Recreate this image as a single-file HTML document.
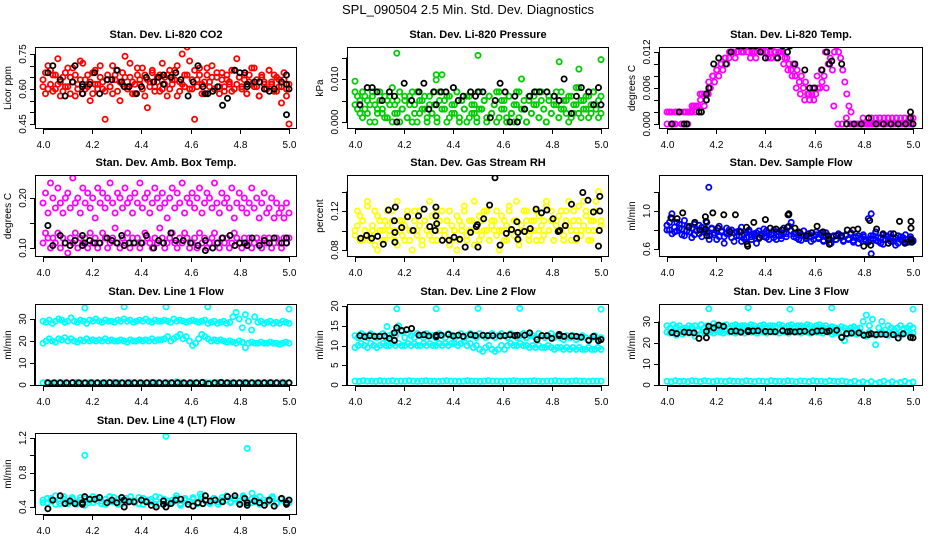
<!DOCTYPE html>
<html><head><meta charset="utf-8">
<style>
html,body{margin:0;padding:0;background:#fff;}
svg{display:block;font-family:"Liberation Sans",Arial,sans-serif;}
</style></head>
<body>
<svg id="chart" width="936" height="540" viewBox="0 0 936 540" xmlns="http://www.w3.org/2000/svg">
<text x="468" y="14" text-anchor="middle" font-size="13">SPL_090504  2.5 Min. Std. Dev. Diagnostics</text>
</svg>
<script>
// ---------- data ----------
const xTicks = [4.0, 4.2, 4.4, 4.6, 4.8, 5.0];

const co2Red1 = [0.64,0.58,0.70,0.62,0.66,0.60,0.73,0.63,0.59,0.67,0.61,0.65,0.69,0.57,0.62,0.64,0.71,0.60,0.66,0.63,0.58,0.68,0.62,0.65,0.60,0.47,0.64,0.61,0.70,0.66,0.59,0.63,0.67,0.74,0.61,0.65,0.58,0.62,0.69,0.64,0.60,0.66,0.52,0.63,0.68,0.61,0.65,0.59,0.71,0.62,0.66,0.60,0.64,0.68,0.57,0.63,0.75,0.61,0.66,0.72,0.60,0.47,0.64,0.69,0.62,0.58,0.66,0.63,0.70,0.60,0.65,0.61,0.67,0.59,0.64,0.62,0.68,0.60,0.73,0.65,0.61,0.66,0.58,0.63,0.69,0.61,0.64,0.57,0.66,0.62,0.60,0.68,0.63,0.59,0.65,0.61,0.54,0.64,0.60,0.45];
const co2Red2 = [0.61,0.67,0.60,0.68,0.59,0.66,0.62,0.57,0.65,0.61,0.69,0.58,0.63,0.66,0.60,0.72,0.58,0.64,0.61,0.55,0.67,0.62,0.60,0.70,0.63,0.59,0.66,0.61,0.58,0.64,0.68,0.55,0.62,0.65,0.60,0.71,0.63,0.58,0.66,0.62,0.69,0.57,0.64,0.61,0.67,0.59,0.63,0.66,0.60,0.65,0.57,0.68,0.62,0.64,0.70,0.59,0.62,0.66,0.78,0.60,0.64,0.68,0.61,0.66,0.58,0.63,0.69,0.61,0.65,0.60,0.67,0.58,0.64,0.61,0.66,0.63,0.59,0.68,0.62,0.65,0.60,0.64,0.58,0.66,0.62,0.69,0.61,0.57,0.65,0.63,0.60,0.68,0.62,0.66,0.59,0.64,0.61,0.67,0.57,0.62];
const co2BlackX = [4.02,4.04,4.07,4.09,4.12,4.13,4.16,4.16,4.16,4.19,4.21,4.23,4.26,4.28,4.30,4.32,4.33,4.35,4.38,4.40,4.42,4.45,4.47,4.49,4.49,4.52,4.54,4.56,4.59,4.61,4.63,4.65,4.66,4.67,4.69,4.71,4.73,4.75,4.78,4.80,4.82,4.83,4.83,4.86,4.88,4.90,4.92,4.94,4.97,4.99,4.99,5.00,4.99];
const co2BlackY = [0.67,0.70,0.64,0.57,0.63,0.70,0.61,0.62,0.58,0.62,0.67,0.58,0.64,0.64,0.68,0.63,0.61,0.61,0.58,0.61,0.65,0.63,0.65,0.62,0.66,0.65,0.67,0.64,0.57,0.63,0.70,0.61,0.58,0.58,0.59,0.61,0.53,0.56,0.68,0.67,0.67,0.61,0.62,0.63,0.63,0.60,0.59,0.60,0.63,0.66,0.62,0.60,0.49];

const presGreen1 = [0.007,0.003,0.005,0.001,0.006,0.002,0.004,0.007,0.000,0.003,0.005,0.002,0.006,0.001,0.004,0.008,0.002,0.005,0.000,0.003,0.006,0.001,0.004,0.007,0.002,0.000,0.005,0.003,0.006,0.001,0.004,0.002,0.007,0.000,0.005,0.011,0.003,0.006,0.001,0.004,0.002,0.007,0.000,0.005,0.003,0.006,0.001,0.004,0.002,0.000,0.007,0.003,0.005,0.001,0.006,0.002,0.004,0.000,0.007,0.003,0.005,0.001,0.006,0.002,0.000,0.004,0.007,0.003,0.005,0.000,0.006,0.002,0.004,0.007,0.001,0.005,0.003,0.000,0.006,0.002,0.004,0.007,0.001,0.003,0.005,0.002,0.006,0.001,0.004,0.008,0.002,0.005,0.003,0.006,0.001,0.004,0.007,0.003,0.005,0.002];
const presGreen2 = [0.004,0.006,0.002,0.007,0.003,0.005,0.000,0.006,0.004,0.002,0.007,0.003,0.001,0.005,0.006,0.000,0.004,0.002,0.007,0.003,0.005,0.001,0.006,0.000,0.004,0.007,0.002,0.005,0.003,0.000,0.006,0.002,0.004,0.001,0.007,0.003,0.005,0.000,0.006,0.002,0.004,0.007,0.001,0.005,0.003,0.000,0.006,0.002,0.004,0.001,0.003,0.003,0.005,0.000,0.006,0.002,0.004,0.007,0.001,0.005,0.003,0.000,0.006,0.002,0.004,0.007,0.001,0.010,0.003,0.000,0.005,0.002,0.006,0.004,0.001,0.007,0.003,0.000,0.005,0.002,0.006,0.004,0.001,0.007,0.003,0.005,0.000,0.006,0.002,0.004,0.008,0.001,0.005,0.003,0.006,0.002,0.007,0.004,0.001,0.006];
const presOutX = [4.00,4.17,4.33,4.33,4.50,4.83,4.91,5.00];
const presOutY = [0.0095,0.016,0.011,0.0098,0.0155,0.014,0.0123,0.0145];
const presBlackX = [4.02,4.05,4.07,4.09,4.11,4.14,4.16,4.17,4.20,4.23,4.26,4.28,4.30,4.32,4.33,4.35,4.37,4.40,4.42,4.44,4.47,4.49,4.50,4.52,4.55,4.57,4.59,4.61,4.63,4.65,4.66,4.69,4.71,4.73,4.75,4.78,4.81,4.83,4.85,4.88,4.90,4.92,4.95,4.97,4.99,5.00];
const presBlackY = [0.004,0.008,0.008,0.007,0.005,0.007,0.006,0.000,0.009,0.005,0.007,0.009,0.003,0.007,0.004,0.007,0.007,0.008,0.005,0.006,0.007,0.006,0.007,0.007,0.001,0.005,0.009,0.007,0.000,0.006,0.000,0.003,0.006,0.007,0.007,0.007,0.006,0.005,0.010,0.002,0.006,0.008,0.007,0.004,0.008,0.004];

const tempMag1 = [0.002,0.002,0.000,0.000,0.002,0.002,0.002,0.000,0.002,0.002,0.000,0.002,0.002,0.003,0.003,0.003,0.005,0.005,0.003,0.004,
0.005,0.006,0.008,0.007,0.009,0.008,0.010,0.009,0.011,0.010,
0.011,0.012,0.012,0.011,0.012,0.013,0.012,0.012,0.013,0.012,0.013,0.012,0.012,0.011,0.013,0.012,0.012,0.013,0.012,0.011,0.012,0.013,0.012,0.011,0.012,0.012,
0.012,0.011,0.011,0.010,0.009,0.010,0.008,0.009,0.007,0.008,0.006,0.007,0.005,0.004,0.005,
0.004,0.005,0.006,0.006,0.007,0.008,0.006,0.010,0.011,0.009,0.012,0.013,0.012,0.011,
0.009,0.007,0.005,0.003,0.002,0.000,0.000,0.000,
0.000,0.000,0.000,0.000,0.000,0.000,0.000,0.000,0.001,0.000,0.001,0.000,0.001,0.000,0.001,0.000,0.001,0.000,0.001,0.000,0.001,0.000,0.001,0.000,0.001,0.000,0.001];
const tempMag2 = [0.000,0.002,0.000,0.002,0.000,0.002,0.003,0.002,0.004,0.005,0.007,0.008,0.009,0.010,0.011,
0.012,0.012,0.013,0.012,0.013,0.011,0.012,0.013,0.012,0.012,0.011,0.012,0.012,
0.010,0.009,0.008,0.006,0.005,0.004,
0.005,0.006,0.008,0.009,0.012,0.010,
0.003,0.000,0.000,0.001,0.000,0.000,0.000,0.001,0.000,0.001,0.000,0.001,0.000,0.001,0.000,0.001,0.000,0.001,0.000,0.001];
const tempBlackX = [4.02,4.05,4.07,4.08,4.13,4.14,4.16,4.16,4.17,4.19,4.21,4.24,4.26,4.29,4.31,4.34,4.36,4.38,4.40,4.42,4.45,4.47,4.49,4.50,4.52,4.56,4.58,4.60,4.63,4.65,4.66,4.67,4.71,4.73,4.76,4.79,4.82,4.85,4.88,4.91,4.94,4.97,4.99,4.99,5.00];
const tempBlackY = [0,0.002,0,0,0.002,0.002,0.005,0.004,0.006,0.010,0.011,0.010,0.012,0.013,0.013,0.013,0.013,0.012,0.011,0.013,0.011,0.013,0.012,0.013,0.010,0.009,0.006,0.006,0.009,0.012,0.010,0.0105,0.010,0,0,0,0.001,0,0,0,0,0,0.002,0.001,0];

const ambUpper = [0.19,0.21,0.17,0.23,0.20,0.18,0.22,0.19,0.17,0.20,0.21,0.18,0.24,0.19,0.20,0.17,0.22,0.19,0.21,0.18,0.20,0.16,0.22,0.19,0.21,0.18,0.20,0.23,0.19,0.17,0.21,0.20,0.18,0.22,0.19,0.20,0.17,0.21,0.19,0.23,0.18,0.20,0.21,0.17,0.19,0.22,0.20,0.18,0.21,0.19,0.16,0.20,0.22,0.18,0.21,0.19,0.23,0.17,0.20,0.19,0.21,0.18,0.20,0.22,0.17,0.19,0.21,0.20,0.18,0.23,0.19,0.17,0.21,0.19,0.20,0.18,0.22,0.16,0.19,0.21,0.18,0.20,0.17,0.19,0.22,0.18,0.20,0.16,0.19,0.21,0.17,0.18,0.20,0.16,0.19,0.17,0.18,0.16,0.19,0.17];
const ambLower = [0.11,0.13,0.12,0.10,0.12,0.11,0.13,0.10,0.12,0.11,0.09,0.12,0.11,0.13,0.10,0.12,0.11,0.12,0.10,0.13,0.11,0.12,0.10,0.11,0.13,0.12,0.10,0.11,0.12,0.14,0.11,0.10,0.12,0.11,0.13,0.10,0.12,0.11,0.12,0.10,0.11,0.13,0.12,0.11,0.10,0.12,0.11,0.14,0.12,0.10,0.11,0.12,0.13,0.11,0.10,0.12,0.11,0.13,0.12,0.10,0.11,0.12,0.10,0.13,0.11,0.12,0.10,0.11,0.12,0.13,0.11,0.10,0.12,0.11,0.12,0.10,0.11,0.13,0.12,0.11,0.10,0.12,0.11,0.12,0.10,0.11,0.12,0.11,0.10,0.12,0.11,0.12,0.10,0.11,0.12,0.11,0.10,0.12,0.11,0.12];
const ambBlackX = [4.02,4.04,4.07,4.09,4.11,4.13,4.16,4.16,4.17,4.19,4.21,4.23,4.26,4.28,4.30,4.32,4.33,4.35,4.37,4.40,4.42,4.45,4.47,4.49,4.52,4.54,4.57,4.60,4.63,4.66,4.66,4.69,4.71,4.73,4.76,4.78,4.80,4.82,4.83,4.85,4.88,4.90,4.92,4.94,4.97,4.99,4.99];
const ambBlackY = [0.145,0.105,0.125,0.11,0.105,0.115,0.105,0.125,0.11,0.115,0.11,0.11,0.12,0.115,0.11,0.125,0.105,0.11,0.11,0.11,0.125,0.10,0.115,0.11,0.13,0.115,0.115,0.11,0.105,0.115,0.095,0.10,0.11,0.12,0.125,0.105,0.11,0.11,0.105,0.12,0.105,0.115,0.11,0.12,0.11,0.12,0.11];

const rhYellow1 = [0.10,0.12,0.09,0.11,0.10,0.13,0.09,0.10,0.12,0.08,0.11,0.10,0.09,0.12,0.10,0.11,0.09,0.13,0.10,0.11,0.09,0.12,0.10,0.08,0.11,0.10,0.12,0.09,0.11,0.10,0.13,0.09,0.10,0.12,0.11,0.09,0.10,0.11,0.12,0.09,0.10,0.08,0.11,0.10,0.12,0.09,0.11,0.10,0.13,0.10,0.09,0.11,0.12,0.10,0.09,0.11,0.10,0.12,0.08,0.10,0.11,0.09,0.12,0.10,0.11,0.13,0.09,0.10,0.12,0.11,0.09,0.10,0.11,0.12,0.10,0.09,0.11,0.13,0.10,0.12,0.09,0.11,0.10,0.12,0.09,0.11,0.13,0.10,0.12,0.09,0.11,0.10,0.13,0.12,0.09,0.11,0.10,0.12,0.14,0.11];
const rhYellow2 = [0.095,0.105,0.115,0.09,0.1,0.125,0.095,0.105,0.085,0.115,0.1,0.09,0.11,0.105,0.095,0.12,0.1,0.085,0.11,0.095,0.105,0.115,0.09,0.1,0.12,0.095,0.105,0.085,0.11,0.1,0.095,0.115,0.105,0.09,0.1,0.12,0.095,0.11,0.085,0.105,0.1,0.115,0.09,0.105,0.125,0.095,0.1,0.11,0.085,0.105,0.115,0.095,0.1,0.12,0.09,0.105,0.11,0.095,0.1,0.115,0.09,0.105,0.125,0.1,0.095,0.11,0.085,0.105,0.1,0.12,0.095,0.11,0.1,0.09,0.115,0.105,0.095,0.125,0.1,0.11,0.09,0.105,0.115,0.1,0.095,0.12,0.105,0.09,0.11,0.1,0.125,0.095,0.105,0.115,0.1,0.09,0.11,0.13,0.1,0.105];
const rhBlackX = [4.023,4.047,4.068,4.092,4.115,4.136,4.164,4.16,4.162,4.162,4.19,4.214,4.236,4.258,4.281,4.304,4.329,4.329,4.332,4.326,4.355,4.382,4.403,4.426,4.448,4.47,4.493,4.497,4.5,4.523,4.547,4.569,4.59,4.615,4.636,4.658,4.662,4.662,4.689,4.712,4.736,4.758,4.78,4.805,4.826,4.832,4.855,4.88,4.901,4.926,4.947,4.969,4.995,4.995,4.993,4.99];
const rhBlackY = [0.092,0.095,0.092,0.094,0.086,0.121,0.124,0.110,0.098,0.088,0.103,0.114,0.100,0.115,0.122,0.104,0.124,0.115,0.107,0.100,0.090,0.090,0.093,0.091,0.083,0.098,0.104,0.106,0.083,0.112,0.126,0.154,0.085,0.097,0.101,0.109,0.098,0.091,0.099,0.102,0.122,0.118,0.121,0.112,0.099,0.100,0.105,0.127,0.092,0.139,0.131,0.119,0.135,0.120,0.100,0.084];

const flowBlue1 = [0.85,0.80,0.92,0.78,0.88,0.82,0.75,0.90,0.79,0.84,0.72,0.86,0.80,0.76,0.83,0.78,0.88,0.74,0.81,0.77,0.70,0.84,0.79,0.73,0.82,0.76,0.80,0.68,0.78,0.74,0.83,0.71,0.77,0.80,0.73,0.76,0.66,0.79,0.74,0.81,0.72,0.77,0.75,0.80,0.70,0.78,0.74,0.82,0.76,0.96,0.79,0.73,0.77,0.70,0.75,0.79,0.72,0.76,0.68,0.74,0.78,0.71,0.75,0.69,0.77,0.72,0.66,0.74,0.70,0.76,0.73,0.68,0.75,0.71,0.77,0.69,0.73,0.66,0.72,0.75,0.70,0.67,0.74,0.71,0.78,0.68,0.72,0.65,0.74,0.70,0.76,0.68,0.72,0.66,0.73,0.69,0.75,0.67,0.71,0.68];
const flowBlue2 = [0.80,0.88,0.76,0.83,0.79,0.86,0.81,0.74,0.84,0.78,0.82,0.75,0.79,0.85,0.73,0.80,0.77,0.70,0.82,0.75,0.79,0.73,0.78,0.66,0.76,0.80,0.72,0.77,0.74,0.79,0.68,0.75,0.72,0.78,0.70,0.74,0.77,0.71,0.76,0.73,0.79,0.70,0.75,0.72,0.78,0.74,0.71,0.77,0.73,0.84,0.88,0.76,0.72,0.78,0.69,0.74,0.71,0.76,0.73,0.70,0.75,0.72,0.77,0.68,0.74,0.71,0.66,0.73,0.70,0.75,0.72,0.69,0.74,0.70,0.76,0.67,0.72,0.74,0.70,0.73,0.68,0.92,0.71,0.74,0.69,0.72,0.66,0.75,0.70,0.73,0.68,0.71,0.64,0.74,0.70,0.72,0.67,0.70,0.73,0.69];
const flowOutX = [4.00,4.02,4.17,4.50,4.83,4.83];
const flowOutY = [0.85,0.97,1.25,1.45,0.55,0.97];
const flowBlackX = [4.016,4.041,4.064,4.088,4.113,4.133,4.156,4.159,4.156,4.162,4.186,4.207,4.231,4.256,4.278,4.3,4.323,4.326,4.328,4.353,4.376,4.4,4.42,4.443,4.467,4.49,4.492,4.495,4.52,4.541,4.566,4.588,4.61,4.634,4.655,4.658,4.66,4.688,4.71,4.733,4.756,4.776,4.8,4.824,4.828,4.852,4.878,4.9,4.921,4.945,4.967,4.992,4.992,4.992,4.995];
const flowBlackY = [0.93,0.92,0.98,0.83,0.88,0.80,0.94,0.89,0.81,0.74,0.98,0.82,0.96,0.78,0.96,0.78,0.83,0.65,0.63,0.88,0.72,0.91,0.82,0.81,0.80,0.83,0.96,0.97,0.82,0.77,0.74,0.77,0.84,0.78,0.74,0.70,0.65,0.74,0.74,0.80,0.80,0.81,0.63,0.90,0.64,0.81,0.76,0.66,0.76,0.89,0.66,0.89,0.82,0.70,0.67];

const l1Upper = [29,28.5,29.5,28,29,30,29.5,28.5,29,30.5,29,28.5,29.5,29,28,29.5,29,30,29,28.5,29.5,29,29,28.5,29.5,29,30,29,29.5,28.5,29,29.5,29,30,29,28.5,29.5,29,29,29.5,29,28.5,30,29,29.5,29,28.5,29,29.5,29,28.5,29,29.5,28,28.5,29,28,28.5,29,28,28.5,31,33,30,26,32,29,25,31,28.5,29,28,28.5,29,28,28.5,28,29,28.5,28];
const l1Mid = [19,20,21,20,19.5,21,20.5,21.5,20,21,20,19.5,20.5,20,21,20,20.5,20,20.5,20,21,20,20.5,20,20,20.5,20,19.5,20.5,20,20,20.5,20,20.5,20,21,20,20.5,20.5,21,22,20,21,22,23,21,22,20,18,19,21,23,22,21,20,20.5,20,20.5,20,19.5,20,19.5,19,20,19.5,17,19,19.5,19,19,19.5,19,19,19.5,19,19,18.5,19,19.5,19];
const l1Low = [1,1.2,0.8,1,1.1,1,0.9,1,1.2,1,0.8,1,1.1,1,0.9,1,1,1.2,1,0.9,1,1.1,1,1,0.9,1,1.2,1,1,0.9,1,1.1,1.5,1,0.5,0.2,1,1,1.1,1,0.9,1,1,1.1,1,0.9,1,1,1.2,1,1,0.9,1,1.1,1,1,0.9,1,1,1];
const l1OutX = [4.17,4.33,4.50,4.67,5.00];
const l1OutY = [35,35.5,35.5,35.5,34.5];
const l1Black = [1,1,1,1,1.1,1,1,1,1,1,1.1,1,1,1,1,1,1,1.1,1,1,1,1,1,1,1,1.2,0.6,1,1.2,1,1,1,1,1,1,1,1.1,1,1,1];

const l2Upper = [12.5,12,13,12.5,12,13,12.5,12,12.5,13,12,12.5,13,12.5,15,13.5,12,13,12.5,12,13,12.5,12,13,12.5,12.5,12,13,12.5,12,13,12.5,12,12.5,13,12,12.5,13,12.5,12,13,12.5,12,12.5,13,12,12.5,13,12.5,12,13,12.5,12,12.5,13,12,12.5,12.5,12,13,12.5,12,12.5,13,12,12.5,12,11.5,12.5,12,12.5,11.5,12,12.5,12,11.5,12,12.5,11.5,12];
const l2Mid = [9.5,10,10.5,10,9.5,10.5,10,9.5,10,10.5,10,10,10.5,10,10.5,10,10,10.5,10,10.5,10,10,10.5,10,10.5,10,10,10.5,10,10.5,10,10.5,10.5,10,10.5,11,10,10.5,9.5,10,9,8.5,9.5,10,9,8.5,9,10,9,10,10.5,10,10,10.5,10,10,9.5,10,9.5,10,9.5,9.5,10,9.5,9,9.5,9.5,9,9.5,9,9.5,9,9.5,9,9,9.5,9,9,9.5,9];
const l2Low = [1,0.9,1.1,1,1,0.9,1.1,1,1,1.1,0.9,1,1,1.1,1,0.9,1,1.1,1,1,0.9,1,1.1,1,1,0.9,1,1.1,1,1,0.9,1,1.1,1,1,0.9,1,1,1.1,1,0.9,1,1,1.1,1,0.9,1,1,1.1,1,1,0.9,1,1.1,1,1,0.9,1,1,1];
const l2OutX = [4.13,4.17,4.33,4.50,4.67,5.00];
const l2OutY = [14.8,19.3,19.3,19.4,19.4,19.2];
const l2BlackX = [4.02,4.04,4.06,4.08,4.10,4.12,4.14,4.16,4.16,4.17,4.19,4.21,4.23,4.26,4.28,4.30,4.33,4.33,4.35,4.38,4.40,4.42,4.44,4.47,4.49,4.52,4.54,4.56,4.59,4.61,4.63,4.65,4.66,4.69,4.71,4.74,4.76,4.78,4.80,4.83,4.83,4.85,4.88,4.90,4.92,4.95,4.97,4.99,5.00];
const l2BlackY = [12.5,12.2,12.5,12.3,12.3,12.4,11.8,11.3,13.2,14.5,13.8,14,14.3,12.6,12.7,12.4,12.6,12.2,12.6,12.8,12.4,12.6,12.3,12.7,12.5,12.6,12.5,12.5,12.4,12.5,12.7,12.5,12.6,12.6,13.2,11.5,12.5,12.5,11.8,12.5,12.8,12.3,12.4,12.3,12.1,11.3,12.3,11.2,11.5];

const l3Upper = [28,27,28.5,27.5,28,26.5,27,28,27.5,28,26,28.5,27,28,27.5,29,28,27.5,28,28.5,27,28,28.5,27.5,28,28,27.5,28.5,28,27,28,28.5,27.5,28,28,27.5,28.5,28,27,28,28.5,27.5,28,28,27.5,28.5,28,27,28,28.5,27.5,28,27,27.5,27,26.5,27.5,27,26,27,27.5,26.5,27,30,33,28,31,19,27,30,26,28,27,26,27,28,26.5,27,28,27];
const l3Mid = [25,24.5,25.5,23.5,25,24,25.5,24.5,25,23,25.5,24.5,25,25.5,25,24.5,25.5,25,24.5,25.5,25,25,24.5,25.5,25,24.5,25.5,25,25,24.5,25.5,25,24.5,25.5,25,25,24.5,25.5,25,24.5,25.5,25,25,24.5,25.5,25,24.5,25.5,25,25,24.5,25.5,25,24,24.5,25,23,21,24,25,24.5,24,25,24,23,25,24,23.5,24,25,24,23.5,24,25,24,23.5,24,25,24,24.5];
const l3Low = [1.8,1.5,2,1.7,1.8,1.5,2,1.8,1.6,2,1.8,1.5,1.9,1.8,1.6,2,1.7,1.8,1.5,2,1.8,1.6,1.9,1.8,1.5,2,1.7,1.8,1.6,2,1.8,1.5,1.9,1.8,1.6,2,1.7,1.8,1.5,2,1.8,1.6,1.9,1.5,1.2,1.8,1,1.5,0.8,1.6,0.5,1.2,1.8,0.8,1.5,0.6,1.2,1.7,0.9,1.4];
const l3OutX = [4.17,4.33,4.50,4.67,5.00];
const l3OutY = [36,36.5,35.8,36.5,35.8];
const l3BlackX = [4.02,4.04,4.07,4.09,4.11,4.13,4.16,4.16,4.17,4.19,4.21,4.23,4.26,4.28,4.30,4.33,4.33,4.35,4.37,4.40,4.42,4.44,4.47,4.49,4.50,4.52,4.54,4.56,4.59,4.61,4.63,4.65,4.66,4.69,4.71,4.73,4.75,4.78,4.80,4.82,4.83,4.85,4.87,4.89,4.92,4.94,4.96,4.99,5.00];
const l3BlackY = [24.8,24.3,25,24.8,24.6,22,22.3,25.3,27.8,27,28.3,27.7,25.3,25.5,25,25.7,25.2,25.5,25.6,25.3,25.2,25.2,25.6,25.2,25.3,25.1,25.3,25.4,25,25.5,25.6,25.2,25.5,25.9,22.5,24.3,24.5,24.6,23.5,23.8,24.2,23.8,24,23.8,23.8,22.2,24.2,22.5,22.3];

const l4Cyan1 = [0.48,0.45,0.50,0.43,0.47,0.52,0.44,0.49,0.46,0.51,0.42,0.48,0.45,0.50,0.47,0.43,0.52,0.46,0.49,0.44,0.50,0.47,0.45,0.51,0.43,0.48,0.46,0.52,0.44,0.49,0.47,0.45,0.50,0.42,0.48,0.46,0.51,0.44,0.49,0.47,0.45,0.50,0.43,0.48,0.53,0.46,0.49,0.44,0.51,0.47,0.45,0.50,0.43,0.48,0.46,0.52,0.44,0.49,0.47,0.45];
const l4Cyan2 = [0.45,0.50,0.47,0.53,0.44,0.49,0.46,0.51,0.43,0.48,0.50,0.45,0.52,0.47,0.44,0.49,0.46,0.51,0.43,0.48,0.45,0.52,0.47,0.44,0.50,0.46,0.49,0.43,0.51,0.47,0.45,0.48,0.53,0.44,0.50,0.46,0.49,0.45,0.52,0.47,0.44,0.50,0.46,0.51,0.48,0.45,0.50,0.47,0.53,0.44,0.49,0.46,0.52,0.45,0.48,0.50,0.44,0.49,0.46,0.48];
const l4OutX = [4.17,4.50,4.83,4.64,4.85];
const l4OutY = [1.00,1.22,1.08,0.55,0.56];
const l4BlackX = [4.02,4.04,4.07,4.09,4.11,4.13,4.16,4.16,4.17,4.19,4.21,4.23,4.26,4.28,4.30,4.32,4.33,4.33,4.35,4.37,4.40,4.42,4.44,4.46,4.49,4.49,4.50,4.52,4.54,4.56,4.59,4.61,4.63,4.65,4.66,4.66,4.68,4.70,4.73,4.75,4.78,4.80,4.82,4.83,4.83,4.86,4.88,4.90,4.92,4.94,4.97,4.99,4.99,5.00];
const l4BlackY = [0.38,0.48,0.53,0.44,0.47,0.44,0.45,0.43,0.52,0.49,0.49,0.51,0.45,0.48,0.45,0.51,0.48,0.40,0.46,0.46,0.48,0.46,0.42,0.40,0.47,0.43,0.40,0.44,0.48,0.49,0.43,0.41,0.45,0.44,0.53,0.48,0.47,0.48,0.46,0.52,0.53,0.43,0.50,0.42,0.45,0.47,0.45,0.42,0.48,0.41,0.50,0.45,0.43,0.48];

// ---------- rendering ----------
const NS = 'http://www.w3.org/2000/svg';
const svg = document.getElementById('chart');
function mk(tag, attrs, parent){ const e=document.createElementNS(NS,tag); for(const k in attrs) e.setAttribute(k,attrs[k]); (parent||svg).appendChild(e); return e; }

const rowTop=[47,175,304,433], rowBot=[129,257,386,515];
function evenX(n, a, b){ const xs=[]; for(let i=0;i<n;i++) xs.push(a+(b-a)*i/(n-1)); return xs; }

const panels = [
 {id:'co2',col:0,row:0,title:'Stan. Dev. Li-820 CO2',ylab:'Licor ppm',v0:0.45,p0:124,v1:0.75,p1:54,ticks:[0.45,0.5,0.55,0.6,0.65,0.7,0.75],labels:[0.45,0.60,0.75],dec:2,
  series:[{c:'#ff0000',ys:co2Red1},{c:'#ff0000',ys:co2Red2},{c:'#000',xs:co2BlackX,ys:co2BlackY}]},
 {id:'pressure',col:1,row:0,title:'Stan. Dev. Li-820 Pressure',ylab:'kPa',v0:0,p0:122,v1:0.010,p1:79,ticks:[0,0.005,0.010,0.015],labels:[0,0.010],dec:3,
  series:[{c:'#00cd00',ys:presGreen1},{c:'#00cd00',ys:presGreen2},{c:'#00cd00',xs:presOutX,ys:presOutY},{c:'#000',xs:presBlackX,ys:presBlackY}]},
 {id:'temp',col:2,row:0,title:'Stan. Dev. Li-820 Temp.',ylab:'degrees C',v0:0,p0:124,v1:0.012,p1:52,ticks:[0,0.002,0.004,0.006,0.008,0.010,0.012],labels:[0,0.006,0.012],dec:3,
  series:[{c:'#ff00ff',ys:tempMag1},{c:'#ff00ff',ys:tempMag2},{c:'#000',xs:tempBlackX,ys:tempBlackY}]},
 {id:'amb-box-temp',col:0,row:1,title:'Stan. Dev. Amb. Box Temp.',ylab:'degrees C',v0:0.10,p0:248,v1:0.20,p1:198,ticks:[0.10,0.15,0.20],labels:[0.10,0.20],dec:2,
  series:[{c:'#ff00ff',ys:ambUpper},{c:'#ff00ff',ys:ambLower},{c:'#000',xs:ambBlackX,ys:ambBlackY}]},
 {id:'gas-stream-rh',col:1,row:1,title:'Stan. Dev. Gas Stream RH',ylab:'percent',v0:0.08,p0:250,v1:0.12,p1:211,ticks:[0.08,0.10,0.12,0.14],labels:[0.08,0.12],dec:2,
  series:[{c:'#ffff00',ys:rhYellow1},{c:'#ffff00',ys:rhYellow2},{c:'#000',xs:rhBlackX,ys:rhBlackY}]},
 {id:'sample-flow',col:2,row:1,title:'Stan. Dev. Sample Flow',ylab:'ml/min',v0:0.6,p0:249,v1:1.0,p1:211,ticks:[0.6,0.8,1.0,1.2],labels:[0.6,1.0],dec:1,
  series:[{c:'#0000ff',ys:flowBlue1},{c:'#0000ff',ys:flowBlue2},{c:'#0000ff',xs:flowOutX,ys:flowOutY},{c:'#000',xs:flowBlackX,ys:flowBlackY}]},
 {id:'line1-flow',col:0,row:2,title:'Stan. Dev. Line 1 Flow',ylab:'ml/min',v0:0,p0:385,v1:30,p1:319,ticks:[0,10,20,30],labels:[0,10,20,30],dec:0,
  series:[{c:'#00ffff',ys:l1Upper},{c:'#00ffff',ys:l1Mid},{c:'#00ffff',ys:l1Low},{c:'#00ffff',xs:l1OutX,ys:l1OutY},{c:'#000',ys:l1Black,x0:4.02,x1:5.0}]},
 {id:'line2-flow',col:1,row:2,title:'Stan. Dev. Line 2 Flow',ylab:'ml/min',v0:0,p0:385,v1:20,p1:306,ticks:[0,5,10,15,20],labels:[0,5,10,15,20],dec:0,
  series:[{c:'#00ffff',ys:l2Upper},{c:'#00ffff',ys:l2Mid},{c:'#00ffff',ys:l2Low},{c:'#00ffff',xs:l2OutX,ys:l2OutY},{c:'#000',xs:l2BlackX,ys:l2BlackY}]},
 {id:'line3-flow',col:2,row:2,title:'Stan. Dev. Line 3 Flow',ylab:'ml/min',v0:0,p0:385,v1:30,p1:321.5,ticks:[0,10,20,30],labels:[0,10,20,30],dec:0,
  series:[{c:'#00ffff',ys:l3Upper},{c:'#00ffff',ys:l3Mid},{c:'#00ffff',ys:l3Low},{c:'#00ffff',xs:l3OutX,ys:l3OutY},{c:'#000',xs:l3BlackX,ys:l3BlackY}]},
 {id:'line4-flow',col:0,row:3,title:'Stan. Dev. Line 4 (LT) Flow',ylab:'ml/min',v0:0.4,p0:507,v1:1.2,p1:438,ticks:[0.4,0.6,0.8,1.0,1.2],labels:[0.4,0.8,1.2],dec:1,
  series:[{c:'#00ffff',ys:l4Cyan1},{c:'#00ffff',ys:l4Cyan2},{c:'#00ffff',xs:l4OutX,ys:l4OutY},{c:'#000',xs:l4BlackX,ys:l4BlackY}]}
];

panels.forEach(p=>{
  const off = 312*p.col;
  const L = 35+off, R = 297+off + (p.col===2?2:0);
  const T = rowTop[p.row], B = rowBot[p.row];
  const xS = v => (43+off) + (v-4.0)*246;
  const yS = v => p.p0 + (v-p.v0)*(p.p1-p.p0)/(p.v1-p.v0);
  const g = mk('g',{});
  
  

  const t = mk('text',{x:(L+R)/2,y:T-9,'text-anchor':'middle','font-size':'11','font-weight':'bold'},g);
  t.textContent = p.title;
  
  

  const cp = mk('clipPath',{id:'clip-'+p.id},g);
  mk('rect',{x:L,y:T,width:R-L,height:B-T},cp);

  const pts = mk('g',{'clip-path':'url(#clip-'+p.id+')',fill:'none','stroke-width':'1.8'},g);
  
  
  p.series.forEach((s,si)=>{
    const xs = s.xs || evenX(s.ys.length, s.x0||4.0, s.x1||5.0);
    s.ys.forEach((v,i)=>{
      const c = mk('circle',{cx:xS(xs[i]).toFixed(1),cy:yS(v).toFixed(1),r:'2.6',stroke:s.c},pts);
      
      
    });
  });

  const box = mk('rect',{x:L+0.5,y:T+0.5,width:R-L-1,height:B-T-1,fill:'none',stroke:'#000','stroke-width':'1'},g);
  
  

  const xa = mk('g',{},g);
  
  
  mk('line',{x1:xS(4.0),x2:xS(5.0),y1:B+0.5,y2:B+0.5,stroke:'#000'},xa);
  xTicks.forEach(v=>{
    const x = Math.round(xS(v))+0.5;
    mk('line',{x1:x,x2:x,y1:B,y2:B+5,stroke:'#000'},xa);
    const tl = mk('text',{x:x,y:B+19,'text-anchor':'middle','font-size':'10'},xa);
    tl.textContent = v.toFixed(1);
    
    
  });

  const ya = mk('g',{},g);
  
  
  mk('line',{x1:L-0.5,x2:L-0.5,y1:yS(p.ticks[0]),y2:yS(p.ticks[p.ticks.length-1]),stroke:'#000'},ya);
  p.ticks.forEach(v=>{
    const y = Math.round(yS(v))+0.5;
    if (y < T-1 || y > B+1) return;
    mk('line',{x1:L-5,x2:L,y1:y,y2:y,stroke:'#000'},ya);
  });
  p.labels.forEach(v=>{
    const y = yS(v);
    const lx = L-9;
    const tl = mk('text',{x:lx,y:y,'text-anchor':'middle','font-size':'10',transform:'rotate(-90 '+lx+' '+y+')'},ya);
    tl.textContent = v.toFixed(p.dec);
    
    
  });
  const yt = mk('text',{x:L-24,y:(T+B)/2,'text-anchor':'middle','font-size':'10',transform:'rotate(-90 '+(L-24)+' '+((T+B)/2)+')'},ya);
  yt.textContent = p.ylab;
  
  
});
</script>
</body></html>
